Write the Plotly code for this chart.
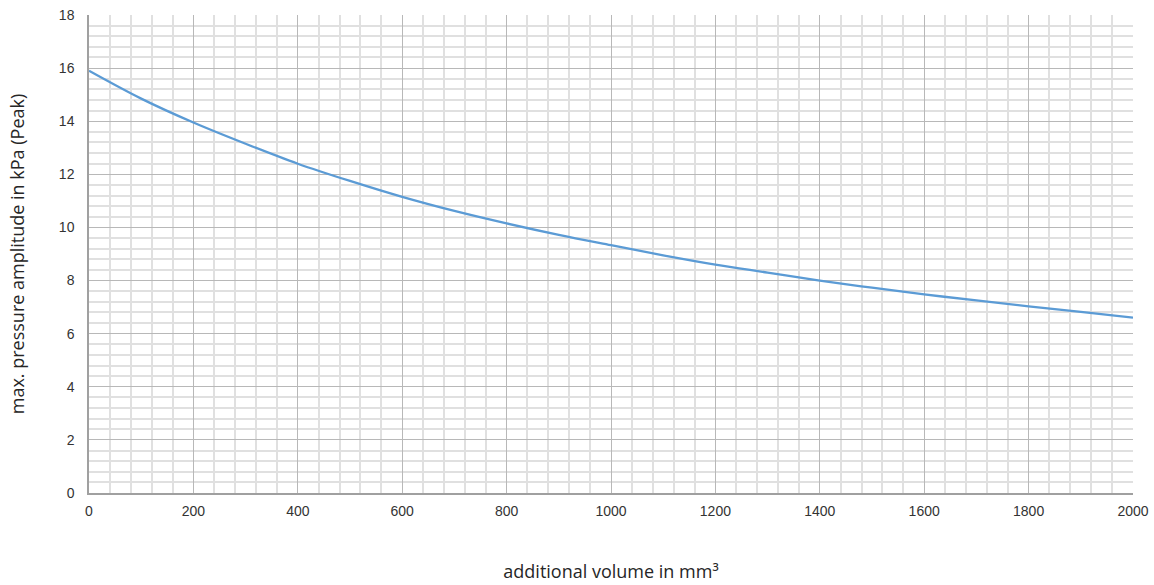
import plotly.graph_objects as go

volume_mm3 = [0, 100, 200, 300, 400, 500, 600, 700, 800, 900, 1000,
              1100, 1200, 1300, 1400, 1500, 1600, 1700, 1800, 1900, 2000]
pressure_kpa = [15.9, 14.85, 13.95, 13.15, 12.4, 11.75, 11.15, 10.62, 10.15, 9.72, 9.33,
                8.95, 8.6, 8.3, 8.0, 7.73, 7.48, 7.25, 7.03, 6.82, 6.6]

x_title = "additional volume in mm³"
y_title = "max. pressure amplitude in kPa (Peak)"

fig = go.Figure()
fig.add_trace(go.Scatter(x=volume_mm3, y=pressure_kpa, mode="lines",
                         line=dict(color="#5b9bd5", width=2.3, shape="spline"),
                         showlegend=False, hoverinfo="x+y"))

tick_font = dict(family="Liberation Sans, Arial, sans-serif", size=14, color="#333333")
title_font = dict(family="Open Sans, Noto Sans, sans-serif", size=18, color="#262626")

fig.update_layout(
    width=1154, height=585,
    margin=dict(l=89, r=21, t=15, b=92),
    paper_bgcolor="white", plot_bgcolor="white",
    xaxis=dict(range=[0, 2000], dtick=200, tick0=0, showgrid=True, automargin=False,
               gridcolor="#b8b8b8", gridwidth=1.3,
               minor=dict(dtick=40, showgrid=True, gridcolor="#e0e0e0", gridwidth=1.6),
               showline=True, linecolor="#a0a0a0", linewidth=1.5,
               zeroline=False, tickfont=tick_font,
               ticks="outside", ticklen=4, tickcolor="rgba(0,0,0,0)",
               title=dict(text=x_title, font=title_font, standoff=48)),
    yaxis=dict(range=[0, 18], dtick=2, tick0=0, showgrid=True, automargin=False,
               gridcolor="#b8b8b8", gridwidth=1.3,
               minor=dict(dtick=0.4, showgrid=True, gridcolor="#e0e0e0", gridwidth=1.6),
               showline=True, linecolor="#a0a0a0", linewidth=1.5,
               zeroline=False, tickfont=tick_font,
               ticks="outside", ticklen=10, tickcolor="rgba(0,0,0,0)",
               title=dict(text=y_title, font=title_font, standoff=30)),
)

fig.write_html("out.html", config={"displayModeBar": False},
               post_script="document.body.style.margin='0';document.body.style.overflow='hidden';")
